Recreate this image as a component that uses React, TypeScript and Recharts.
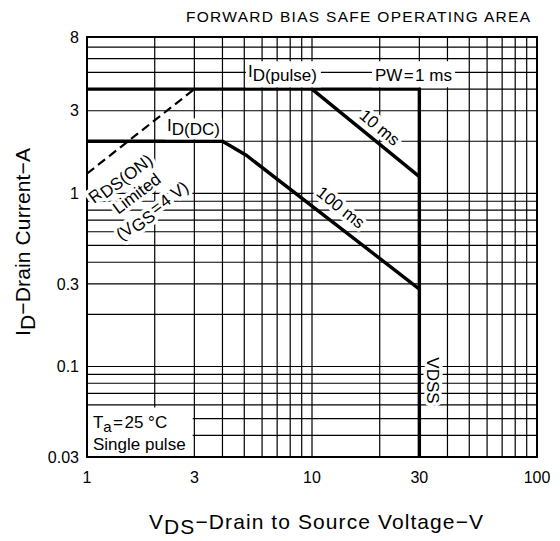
import React from "react";
import {
  ComposedChart,
  Line,
  XAxis,
  YAxis,
  CartesianGrid,
  ReferenceDot,
  ReferenceArea,
  Customized,
} from "recharts";

// ---- axes / grid ----
const xTicks = [1, 3, 10, 30, 100];
const yTicks = [0.03, 0.1, 0.3, 1, 3, 8];
const xGridValues = [1, 2, 3, 4, 5, 6, 7, 8, 9, 10, 20, 30, 40, 50, 60, 70, 80, 90, 100];
const yGridValues = [
  0.03, 0.04, 0.05, 0.06, 0.07, 0.08, 0.09, 0.1, 0.2, 0.3, 0.4, 0.5, 0.6, 0.7, 0.8, 0.9,
  1, 2, 3, 4, 5, 6, 7, 8,
];

// ---- series (VDS [V], ID [A]) ----
const idPulseLimit = [
  { x: 1, y: 4 },
  { x: 30, y: 4 },
  { x: 30, y: 0.03 },
];
const pw10ms = [
  { x: 10, y: 4 },
  { x: 30, y: 1.25 },
];
const idDcLimit = [
  { x: 1, y: 2 },
  { x: 4, y: 2 },
  { x: 5.1, y: 1.66 },
  { x: 30, y: 0.28 },
];
const rdsOnLimit = [
  { x: 1, y: 1.3 },
  { x: 3, y: 4 },
];

// ---- annotation anchors (data coords) ----
const pulseLabelAt = { x: 5.19, y: 4.68 };
const pwLabelAt = { x: 19.05, y: 4.44 };
const dcLabelAt = { x: 2.27, y: 2.28 };
const rdsLabelAt = { x: 1.66, y: 1.0 };
const ms10LabelAt = { x: 19.5, y: 2.31 };
const ms100LabelAt = { x: 13.09, y: 0.797 };
const vdssLabelAt = { x: 34.5, y: 0.083 };
const condBox = { x1: 1, x2: 2.95, y1: 0.03, y2: 0.058 };
const condLabelAt = { x: 1.063, y: 0.03 };

const F = "'Liberation Sans', Arial, Helvetica, sans-serif";
const fmt = (v: number) => String(v);

const halo = {
  paintOrder: "stroke" as const,
  stroke: "#fff",
  strokeWidth: 7,
  strokeLinejoin: "round" as const,
};

const shapeAt =
  (render: (cx: number, cy: number) => React.ReactElement) =>
  (props: any) =>
    render(props.cx, props.cy);

const Titles = () => (
  <g fontFamily={F} fill="#000">
    <text x={186} y={22} fontSize={15.5} textLength={344} lengthAdjust="spacing">
      FORWARD BIAS SAFE OPERATING AREA
    </text>
    <text x={316} y={529} fontSize={21} textAnchor="middle" textLength={334} lengthAdjust="spacing">
      <tspan>V</tspan>
      <tspan dy={5}>DS</tspan>
      <tspan dy={-5}>{"\u2212Drain to Source Voltage\u2212V"}</tspan>
    </text>
    <text
      x={0}
      y={0}
      fontSize={21}
      textAnchor="middle"
      textLength={188}
      lengthAdjust="spacing"
      transform="translate(30,242) rotate(-90)"
    >
      <tspan>I</tspan>
      <tspan dy={5}>D</tspan>
      <tspan dy={-5}>{"\u2212Drain Current\u2212A"}</tspan>
    </text>
  </g>
);

export default function App() {
  return (
    <div style={{ position: "absolute", left: 0, top: 0, width: 560, height: 541, background: "#fff" }}>
      <ComposedChart width={560} height={541} margin={{ top: 37, right: 23, bottom: 0, left: 0 }}>
        <CartesianGrid
          horizontalValues={yGridValues}
          verticalValues={xGridValues}
          stroke="#000"
          strokeWidth={1.2}
          strokeOpacity={1}
        />
        <XAxis
          dataKey="x"
          type="number"
          scale="log"
          domain={[1, 100]}
          allowDataOverflow
          ticks={xTicks}
          interval={0}
          tickFormatter={fmt}
          axisLine={false}
          tickLine={false}
          tickSize={0}
          tickMargin={15}
          height={84}
          tick={{ fill: "#000", fontSize: 16, fontFamily: F }}
        />
        <YAxis
          dataKey="y"
          type="number"
          scale="log"
          domain={[0.03, 8]}
          allowDataOverflow
          ticks={yTicks}
          interval={0}
          tickFormatter={fmt}
          axisLine={false}
          tickLine={false}
          tickSize={0}
          tickMargin={8}
          width={87}
          tick={{ fill: "#000", fontSize: 16, fontFamily: F }}
        />

        <ReferenceArea
          x1={condBox.x1}
          x2={condBox.x2}
          y1={condBox.y1}
          y2={condBox.y2}
          fill="#fff"
          fillOpacity={1}
          stroke="none"
        />

        <Line data={rdsOnLimit} dataKey="y" type="linear" stroke="#000" strokeWidth={2.2} strokeDasharray="9 5" dot={false} isAnimationActive={false} />
        <Line data={idPulseLimit} dataKey="y" type="linear" stroke="#000" strokeWidth={3.4} strokeLinejoin="miter" dot={false} isAnimationActive={false} />
        <Line data={pw10ms} dataKey="y" type="linear" stroke="#000" strokeWidth={3.4} dot={false} isAnimationActive={false} />
        <Line data={idDcLimit} dataKey="y" type="linear" stroke="#000" strokeWidth={3.4} dot={false} isAnimationActive={false} />

        <ReferenceDot
          x={pulseLabelAt.x}
          y={pulseLabelAt.y}
          r={0}
          shape={shapeAt((cx, cy) => (
            <g fontFamily={F} fontSize={17} fill="#000">
              <rect x={cx - 2} y={cy - 16} width={75} height={26} fill="#fff" />
              <text x={cx} y={cy}>
                <tspan>I</tspan>
                <tspan dy={4}>D(pulse)</tspan>
              </text>
            </g>
          ))}
        />
        <ReferenceDot
          x={pwLabelAt.x}
          y={pwLabelAt.y}
          r={0}
          shape={shapeAt((cx, cy) => (
            <g fontFamily={F} fontSize={17} fill="#000">
              <rect x={cx - 3} y={cy - 20} width={83} height={26} fill="#fff" />
              <text x={cx} y={cy}>{"PW\u200A=\u200A1 ms"}</text>
            </g>
          ))}
        />
        <ReferenceDot
          x={dcLabelAt.x}
          y={dcLabelAt.y}
          r={0}
          shape={shapeAt((cx, cy) => (
            <g fontFamily={F} fontSize={17} fill="#000">
              <rect x={cx - 2} y={cy - 13} width={57} height={21} fill="#fff" />
              <text x={cx} y={cy}>
                <tspan>I</tspan>
                <tspan dy={4}>D(DC)</tspan>
              </text>
            </g>
          ))}
        />
        <ReferenceDot
          x={rdsLabelAt.x}
          y={rdsLabelAt.y}
          r={0}
          shape={shapeAt((cx, cy) => (
            <g fontFamily={F} fontSize={17} fill="#000" transform={`translate(${cx},${cy}) rotate(-37)`}>
              <text x={-4} y={-17} textAnchor="middle" style={halo}>
                <tspan>R</tspan>
                <tspan dy={3}>DS(ON)</tspan>
              </text>
              <text x={0} y={6} textAnchor="middle" style={halo}>Limited</text>
              <text x={2} y={29} textAnchor="middle" style={halo}>
                <tspan>(V</tspan>
                <tspan dy={3}>GS</tspan>
                <tspan dy={-3}>{"\u200A=\u200A4 V)"}</tspan>
              </text>
            </g>
          ))}
        />
        <ReferenceDot
          x={ms10LabelAt.x}
          y={ms10LabelAt.y}
          r={0}
          shape={shapeAt((cx, cy) => (
            <g fontFamily={F} fontSize={17} fill="#000" transform={`translate(${cx},${cy}) rotate(39.5)`}>
              <text x={0} y={2} textAnchor="middle" style={halo}>10 ms</text>
            </g>
          ))}
        />
        <ReferenceDot
          x={ms100LabelAt.x}
          y={ms100LabelAt.y}
          r={0}
          shape={shapeAt((cx, cy) => (
            <g fontFamily={F} fontSize={17} fill="#000" transform={`translate(${cx},${cy}) rotate(38.5)`}>
              <text x={0} y={2} textAnchor="middle" style={halo}>100 ms</text>
            </g>
          ))}
        />
        <ReferenceDot
          x={vdssLabelAt.x}
          y={vdssLabelAt.y}
          r={0}
          shape={shapeAt((cx, cy) => (
            <g fontFamily={F} fontSize={17} fill="#000" transform={`translate(${cx},${cy}) rotate(90)`}>
              <text x={0} y={6} textAnchor="middle" style={halo}>VDSS</text>
            </g>
          ))}
        />
        <ReferenceDot
          x={condLabelAt.x}
          y={condLabelAt.y}
          r={0}
          shape={shapeAt((cx, cy) => (
            <g fontFamily={F} fontSize={17} fill="#000">
              <text x={cx} y={cy - 29}>
                <tspan>T</tspan>
                <tspan dy={4} fontSize={15}>a</tspan>
                <tspan dy={-4}>{"\u200A=\u200A25 \u00B0C"}</tspan>
              </text>
              <text x={cx} y={cy - 7}>Single pulse</text>
            </g>
          ))}
        />

        <ReferenceArea x1={1} x2={100} y1={0.03} y2={8} fill="none" fillOpacity={0} stroke="#000" strokeWidth={2} />
        <Customized component={Titles} />
      </ComposedChart>
    </div>
  );
}
